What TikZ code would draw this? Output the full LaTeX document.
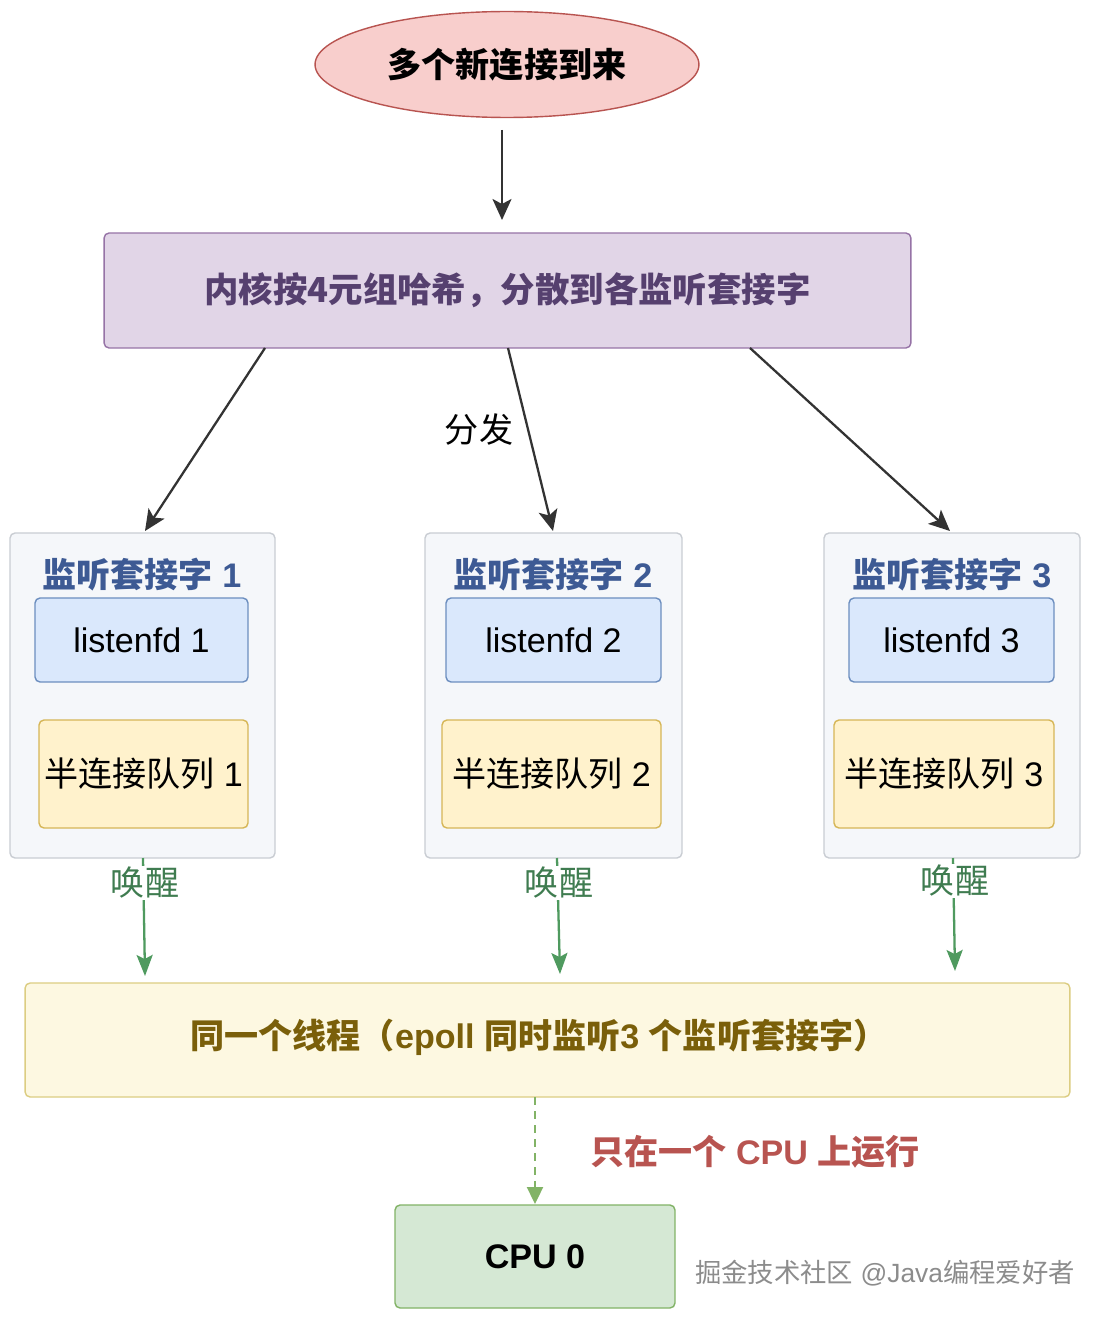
\documentclass[tikz,border=0pt]{standalone}
\usepackage{fontspec}
\setmainfont{Liberation Sans}
\newfontfamily\cjk{Noto Sans CJK SC}
\usetikzlibrary{arrows.meta,shapes.geometric}
\definecolor{ellfill}{HTML}{F8CECC}
\definecolor{elldraw}{HTML}{B85450}
\definecolor{purfill}{HTML}{E1D5E7}
\definecolor{purdraw}{HTML}{9673A6}
\definecolor{purtext}{HTML}{56406F}
\definecolor{confill}{HTML}{F5F7FA}
\definecolor{condraw}{HTML}{C9CDD3}
\definecolor{titletext}{HTML}{3D5A94}
\definecolor{bluefill}{HTML}{DAE8FC}
\definecolor{bluedraw}{HTML}{6C8EBF}
\definecolor{yelfill}{HTML}{FFF2CC}
\definecolor{yeldraw}{HTML}{D6B656}
\definecolor{wyfill}{HTML}{FDF8E1}
\definecolor{wydraw}{HTML}{DCCD82}
\definecolor{wytext}{HTML}{7A5F0A}
\definecolor{grn}{HTML}{4F9A5F}
\definecolor{grntext}{HTML}{3F7C50}
\definecolor{lgrn}{HTML}{82B366}
\definecolor{grnfill}{HTML}{D5E8D4}
\definecolor{redtext}{HTML}{B85450}
\definecolor{arrgray}{HTML}{333333}
\tikzset{
  txt/.style={font=\fontsize{19.4pt}{23pt}\selectfont},
  bx/.style={draw, line width=0.8pt, rounded corners=0.1cm, inner sep=0pt, align=center, txt},
  arr/.style={draw=arrgray, line width=1.3pt, -{Stealth[length=0.42cm,width=0.38cm,inset=0.1cm]}},
  garr/.style={draw=grn, line width=1.3pt, -{Stealth[length=0.42cm,width=0.32cm,inset=0.08cm]}},
  darr/.style={draw=lgrn, line width=1.3pt, dash pattern=on 0.16cm off 0.12cm, -{Triangle[length=0.34cm,width=0.32cm]}},
  wake/.style={txt, fill=white, inner sep=1pt, text=grntext},
  ctitle/.style={txt, text=titletext, font=\fontsize{19.4pt}{23pt}\selectfont\bfseries},
  cont/.style={bx, fill=confill, draw=condraw, minimum height=6.5cm},
  lbox/.style={bx, fill=bluefill, draw=bluedraw, minimum height=1.68cm},
  qbox/.style={bx, fill=yelfill, draw=yeldraw, minimum height=2.16cm},
}
\begin{document}
\begin{tikzpicture}[x=0.02cm,y=-0.02cm]
\useasboundingbox (0,0) rectangle (1099,1321);
\fill[white] (0,0) rectangle (1099,1321);

% top ellipse
\node[ellipse, draw=elldraw, fill=ellfill, line width=0.8pt, minimum width=7.68cm, minimum height=2.12cm, inner sep=0pt, txt, font=\fontsize{19.4pt}{23pt}\selectfont\bfseries] (ell) at (507,64.5) {\cjk 多个新连接到来};

% kernel box
\node[bx, fill=purfill, draw=purdraw, minimum width=16.14cm, minimum height=2.3cm, text=purtext, font=\fontsize{19.6pt}{24pt}\selectfont\bfseries] (kern) at (507.5,290.5) {\cjk 内核按4元组哈希，分散到各监听套接字};

% containers
\node[cont, minimum width=5.3cm] (c1) at (142.5,695.5) {};
\node[cont, minimum width=5.14cm] (c2) at (553.5,695.5) {};
\node[cont, minimum width=5.12cm] (c3) at (952,695.5) {};

\node[ctitle] (t1) at (142,575) {{\cjk 监听套接字} 1};
\node[ctitle] (t2) at (553,575) {{\cjk 监听套接字} 2};
\node[ctitle] (t3) at (952,575) {{\cjk 监听套接字} 3};

\node[lbox, minimum width=4.26cm] (l1) at (141.5,640) {listenfd 1};
\node[lbox, minimum width=4.3cm] (l2) at (553.5,640) {listenfd 2};
\node[lbox, minimum width=4.1cm] (l3) at (951.5,640) {listenfd 3};

\node[qbox, minimum width=4.18cm] (q1) at (143.5,774) {{\cjk 半连接队列} 1};
\node[qbox, minimum width=4.38cm] (q2) at (551.5,774) {{\cjk 半连接队列} 2};
\node[qbox, minimum width=4.4cm] (q3) at (944,774) {{\cjk 半连接队列} 3};

% thread box
\node[bx, fill=wyfill, draw=wydraw, minimum width=20.9cm, minimum height=2.28cm] (th) at (547.5,1040) {};
\node[txt, text=wytext, font=\fontsize{19.4pt}{23pt}\selectfont\bfseries] (thl) at (539,1037) {{\cjk 同一个线程（}epoll {\cjk 同时监听}3 {\cjk 个监听套接字）}};

% cpu box
\node[bx, fill=grnfill, draw=lgrn, minimum width=5.6cm, minimum height=2.06cm, font=\fontsize{19.4pt}{23pt}\selectfont\bfseries] (cpu) at (535,1256.5) {CPU 0};

% arrow endpoints
\coordinate (a0s) at (502,130);
\coordinate (a0e) at (502,220);
\coordinate (a1s) at (265,348);
\coordinate (a1e) at (145,531);
\coordinate (a2s) at (508,348);
\coordinate (a2e) at (553,531);
\coordinate (a3s) at (750,348);
\coordinate (a3e) at (950,531);
\coordinate (g1s) at (143,858);
\coordinate (g1e) at (145,976);
\coordinate (g2s) at (557,858);
\coordinate (g2e) at (560,974);
\coordinate (g3s) at (953,858);
\coordinate (g3e) at (955,971);
\coordinate (ds) at (535,1097);
\coordinate (de) at (535,1204);

\draw[arr] (a0s) -- (a0e);
\draw[arr] (a1s) -- (a1e);
\draw[arr] (a2s) -- (a2e);
\draw[arr] (a3s) -- (a3e);

\node[txt] (fenfa) at (479,430) {\cjk 分发};

\draw[garr] (g1s) -- (g1e);
\draw[garr] (g2s) -- (g2e);
\draw[garr] (g3s) -- (g3e);
\node[wake] (w1) at (145,883) {\cjk 唤醒};
\node[wake] (w2) at (559,883) {\cjk 唤醒};
\node[wake] (w3) at (955,881) {\cjk 唤醒};

\draw[darr] (ds) -- (de);

\node[txt, text=redtext, font=\fontsize{19.4pt}{23pt}\selectfont\bfseries] (only) at (755,1152) {{\cjk 只在一个} CPU {\cjk 上运行}};

\node[txt, text=black!45, font=\fontsize{15pt}{18pt}\selectfont] (wm) at (885,1273) {{\cjk 掘金技术社区} @Java{\cjk 编程爱好者}};
\end{tikzpicture}
\end{document}
